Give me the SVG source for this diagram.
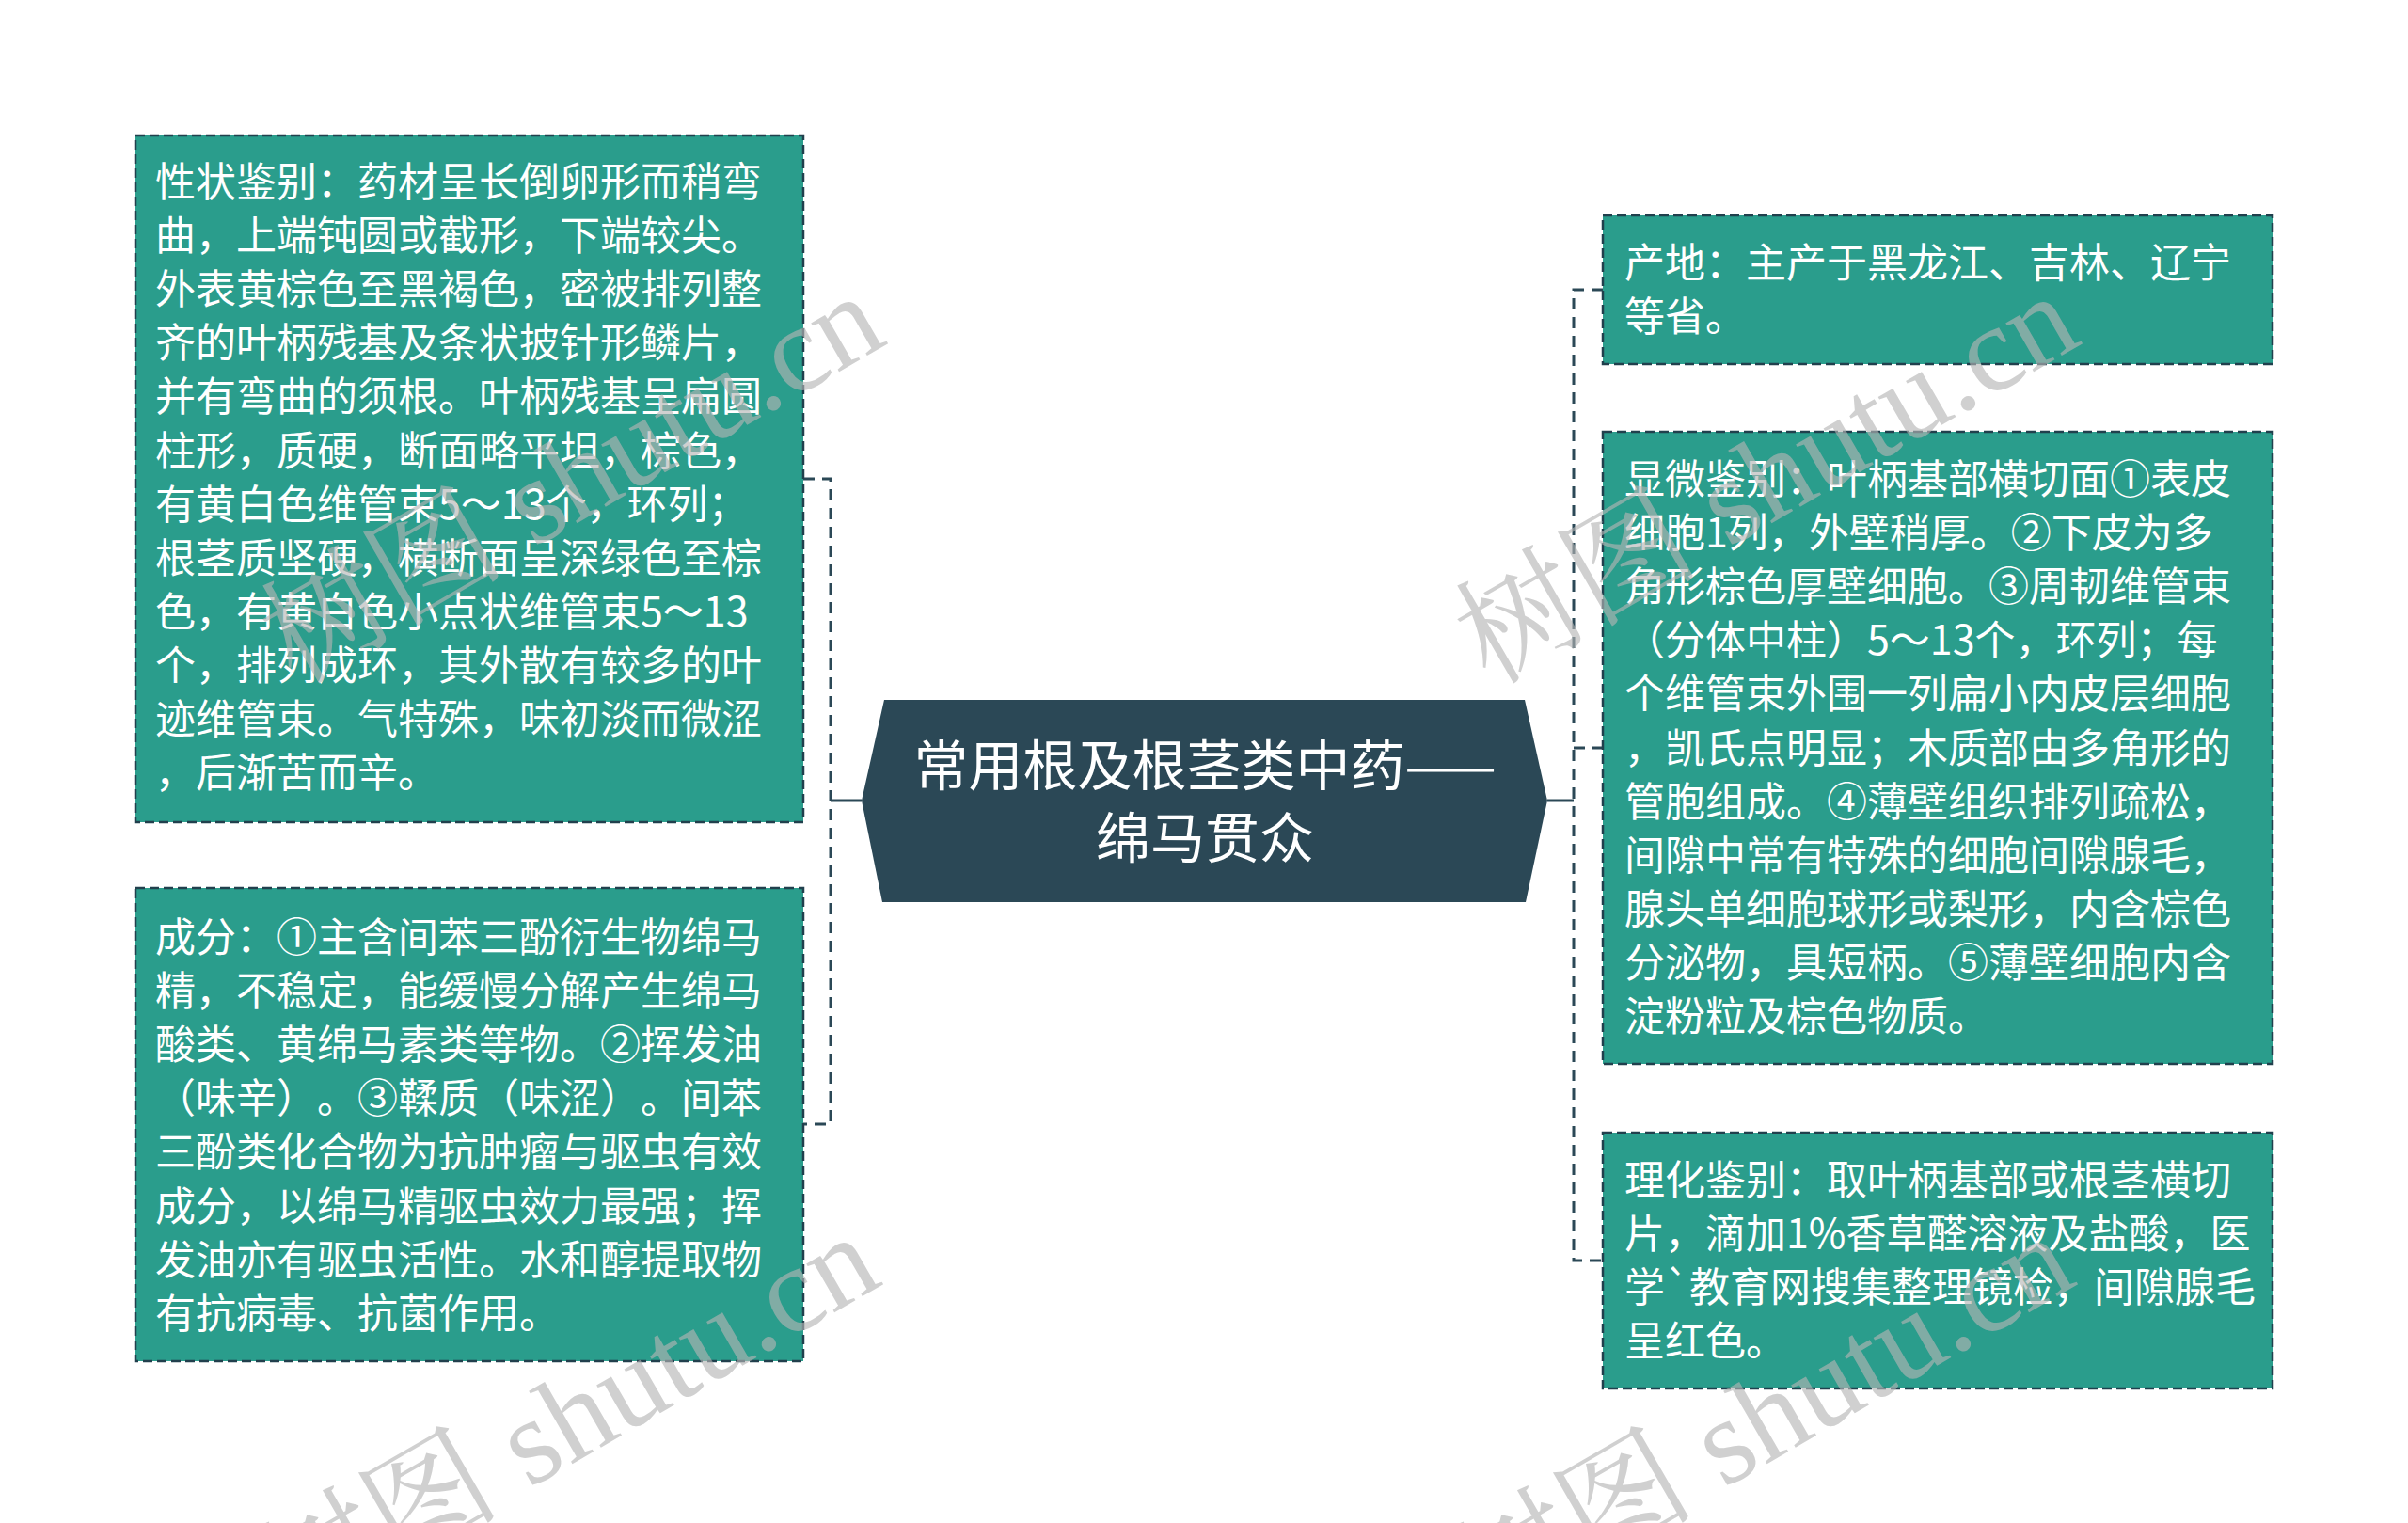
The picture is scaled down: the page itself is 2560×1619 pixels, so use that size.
<svg xmlns="http://www.w3.org/2000/svg" width="2560" height="1619" viewBox="0 0 2560 1619">
<style>
.box{fill:#2a9d8c;stroke:#21404d;stroke-width:2.5;stroke-dasharray:10 5}
.t{font-family:"Noto Sans CJK SC","Microsoft YaHei",sans-serif;font-size:43px;fill:#ffffff;text-spacing-trim:space-all}
.title{font-family:"Noto Sans CJK SC","Microsoft YaHei",sans-serif;font-size:58px;fill:#ffffff;text-anchor:middle}
.dash{fill:none;stroke:#2b4856;stroke-width:3;stroke-dasharray:12 8}
.solid{fill:none;stroke:#2b4856;stroke-width:3}
.wm{font-family:"Liberation Serif","Noto Serif CJK SC","Noto Sans CJK SC",serif;font-size:130px;fill:#b5b5b5;fill-opacity:0.63}
</style>
<rect width="2560" height="1619" fill="#ffffff"/>
<g id="connectors">
  <path class="solid" d="M916 851 H883"/>
  <path class="dash" d="M854 509 H883 V1195 H854"/>
  <path class="solid" d="M1645 851 H1673"/>
  <path class="dash" d="M1704 308 H1673 V1340 H1704"/>
  <path class="dash" d="M1673 795 H1704"/>
</g>
<g id="center">
  <polygon points="940,744 1621,744 1645,851 1622,959 938,959 916,851" fill="#2b4856"/>
  <text class="title"><tspan x="1281" y="835">常用根及根茎类中药——</tspan><tspan x="1281" y="912">绵马贯众</tspan></text>
</g>
<g id="node-xingzhuang">
  <rect class="box" x="144" y="144" width="710" height="730"/>
  <text class="t">
    <tspan x="165" y="209">性状鉴别：药材呈长倒卵形而稍弯</tspan>
    <tspan x="165" y="266">曲，上端钝圆或截形，下端较尖。</tspan>
    <tspan x="165" y="323">外表黄棕色至黑褐色，密被排列整</tspan>
    <tspan x="165" y="380">齐的叶柄残基及条状披针形鳞片，</tspan>
    <tspan x="165" y="437">并有弯曲的须根。叶柄残基呈扁圆</tspan>
    <tspan x="165" y="495">柱形，质硬，断面略平坦，棕色，</tspan>
    <tspan x="165" y="552">有黄白色维管束5～13个，环列；</tspan>
    <tspan x="165" y="609">根茎质坚硬，横断面呈深绿色至棕</tspan>
    <tspan x="165" y="666">色，有黄白色小点状维管束5～13</tspan>
    <tspan x="165" y="723">个，排列成环，其外散有较多的叶</tspan>
    <tspan x="165" y="780">迹维管束。气特殊，味初淡而微涩</tspan>
    <tspan x="165" y="837">，后渐苦而辛。</tspan>
  </text>
</g>
<g id="node-chengfen">
  <rect class="box" x="144" y="944" width="710" height="503"/>
  <text class="t">
    <tspan x="165" y="1012">成分：①主含间苯三酚衍生物绵马</tspan>
    <tspan x="165" y="1069">精，不稳定，能缓慢分解产生绵马</tspan>
    <tspan x="165" y="1126">酸类、黄绵马素类等物。②挥发油</tspan>
    <tspan x="165" y="1183">（味辛）。③鞣质（味涩）。间苯</tspan>
    <tspan x="165" y="1240">三酚类化合物为抗肿瘤与驱虫有效</tspan>
    <tspan x="165" y="1298">成分，以绵马精驱虫效力最强；挥</tspan>
    <tspan x="165" y="1355">发油亦有驱虫活性。水和醇提取物</tspan>
    <tspan x="165" y="1412">有抗病毒、抗菌作用。</tspan>
  </text>
</g>
<g id="node-chandi">
  <rect class="box" x="1704" y="229" width="712" height="158"/>
  <text class="t">
    <tspan x="1727" y="295">产地：主产于黑龙江、吉林、辽宁</tspan>
    <tspan x="1727" y="352">等省。</tspan>
  </text>
</g>
<g id="node-xianwei">
  <rect class="box" x="1704" y="459" width="712" height="672"/>
  <text class="t">
    <tspan x="1727" y="525">显微鉴别：叶柄基部横切面①表皮</tspan>
    <tspan x="1727" y="582">细胞1列，外壁稍厚。②下皮为多</tspan>
    <tspan x="1727" y="639">角形棕色厚壁细胞。③周韧维管束</tspan>
    <tspan x="1727" y="696">（分体中柱）5～13个，环列；每</tspan>
    <tspan x="1727" y="753">个维管束外围一列扁小内皮层细胞</tspan>
    <tspan x="1727" y="811">，凯氏点明显；木质部由多角形的</tspan>
    <tspan x="1727" y="868">管胞组成。④薄壁组织排列疏松，</tspan>
    <tspan x="1727" y="925">间隙中常有特殊的细胞间隙腺毛，</tspan>
    <tspan x="1727" y="982">腺头单细胞球形或梨形，内含棕色</tspan>
    <tspan x="1727" y="1039">分泌物，具短柄。⑤薄壁细胞内含</tspan>
    <tspan x="1727" y="1096">淀粉粒及棕色物质。</tspan>
  </text>
</g>
<g id="node-lihua">
  <rect class="box" x="1704" y="1204" width="712" height="272"/>
  <text class="t">
    <tspan x="1727" y="1270">理化鉴别：取叶柄基部或根茎横切</tspan>
    <tspan x="1727" y="1327">片，滴加1%香草醛溶液及盐酸，医</tspan>
    <tspan x="1727" y="1384">学`教育网搜集整理镜检，间隙腺毛</tspan>
    <tspan x="1727" y="1441">呈红色。</tspan>
  </text>
</g>
<g id="watermarks">
  <text class="wm" transform="translate(314 729) rotate(-30)">树图 shutu.cn</text>
  <text class="wm" transform="translate(1584 729) rotate(-30)">树图 shutu.cn</text>
  <text class="wm" transform="translate(309 1729) rotate(-30)">树图 shutu.cn</text>
  <text class="wm" transform="translate(1579 1729) rotate(-30)">树图 shutu.cn</text>
</g>
</svg>
